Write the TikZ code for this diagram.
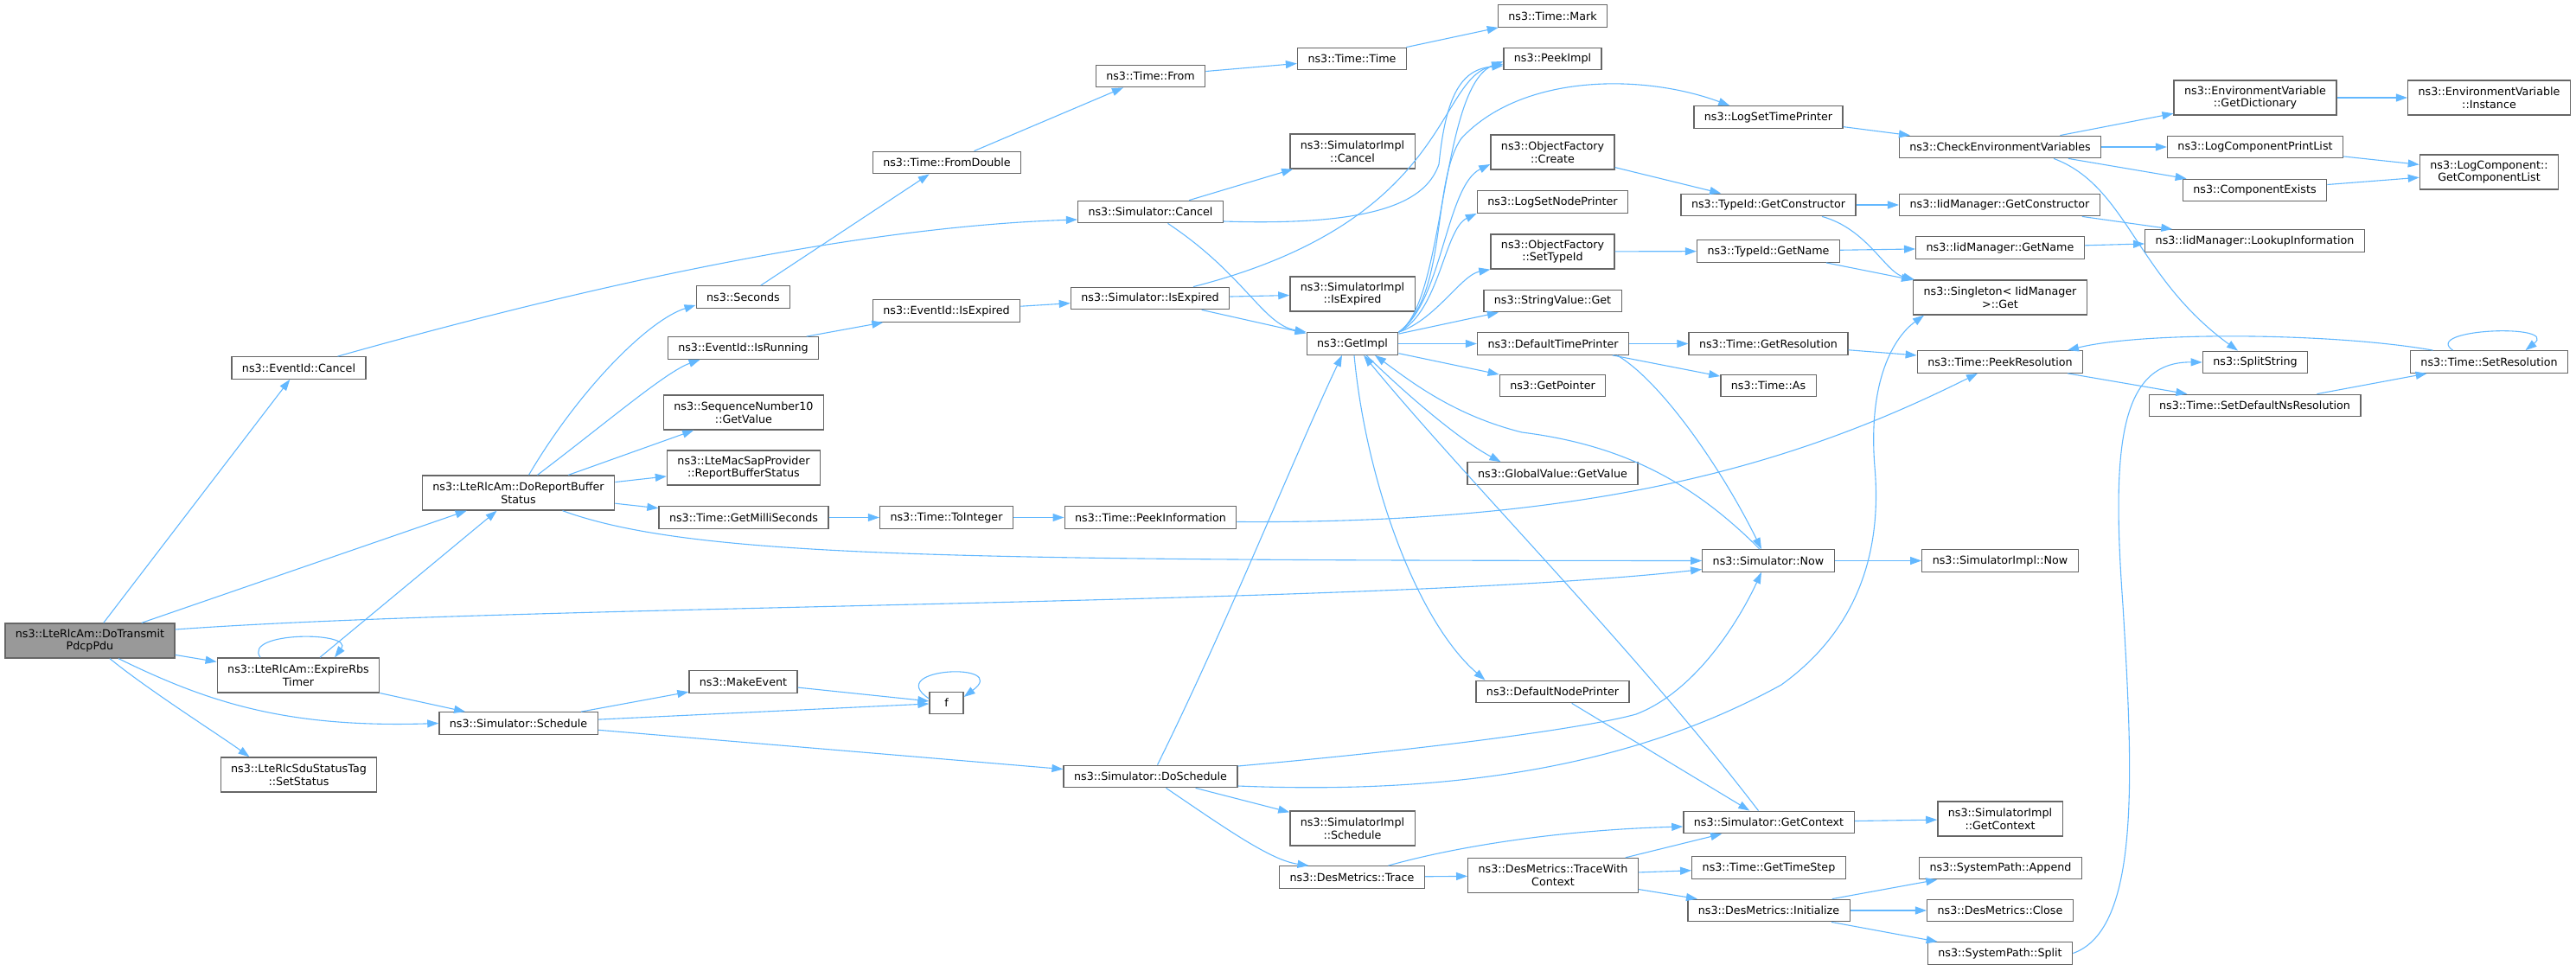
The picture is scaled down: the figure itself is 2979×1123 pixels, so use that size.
\documentclass[tikz,border=0pt]{standalone}
\usepackage{fontspec}
\setmainfont{DejaVu Sans}
\usetikzlibrary{arrows.meta}
\definecolor{callblue}{HTML}{63B8FF}
\definecolor{boxgray}{HTML}{666666}
\definecolor{rootgray}{HTML}{999999}
\begin{document}
\begin{tikzpicture}[x=1pt,y=1pt,
  fn/.style={draw=boxgray, line width=1.3pt, fill=white, align=center,
    font=\fontsize{12.7}{14.7}\selectfont, inner xsep=12pt, inner ysep=0pt,
    minimum height=25.5pt},
  fn2/.style={fn, minimum height=40pt},
  root/.style={fn2, fill=rootgray},
  call/.style={draw=callblue, line width=1.1pt, -{Triangle[length=13pt,width=9pt]}}]
  \useasboundingbox (0,0) rectangle (2979,-1123);
  % Wurzel
  \node[root] (tx) at (104,-741) {ns3::LteRlcAm::DoTransmit\\PdcpPdu};
  % Spalte 1
  \node[fn] (evcancel) at (345.5,-425.5) {ns3::EventId::Cancel};
  \node[fn2] (expire) at (345,-781) {ns3::LteRlcAm::ExpireRbs\\Timer};
  \node[fn2] (setstatus) at (345.5,-896) {ns3::LteRlcSduStatusTag\\::SetStatus};
  % Spalte 2
  \node[fn2] (report) at (599.5,-570) {ns3::LteRlcAm::DoReportBuffer\\Status};
  \node[fn] (sched) at (599.5,-836.5) {ns3::Simulator::Schedule};
  % Spalte 3
  \node[fn] (seconds) at (859.5,-343.5) {ns3::Seconds};
  \node[fn] (isrunning) at (859.5,-402.5) {ns3::EventId::IsRunning};
  \node[fn2] (seqnum) at (860,-477) {ns3::SequenceNumber10\\::GetValue};
  \node[fn2] (macsap) at (860,-541) {ns3::LteMacSapProvider\\::ReportBufferStatus};
  \node[fn] (millis) at (860,-598.5) {ns3::Time::GetMilliSeconds};
  \node[fn] (makeevent) at (859.5,-788.5) {ns3::MakeEvent};
  % Spalte 4
  \node[fn] (fromdouble) at (1095,-188) {ns3::Time::FromDouble};
  \node[fn] (evexpired) at (1094.5,-359.5) {ns3::EventId::IsExpired};
  \node[fn] (tointeger) at (1094.5,-598.5) {ns3::Time::ToInteger};
  \node[fn, minimum width=39pt] (f) at (1094.5,-813) {f};
  % Spalte 5
  \node[fn] (from) at (1330.5,-88) {ns3::Time::From};
  \node[fn] (simcancel) at (1330.5,-245) {ns3::Simulator::Cancel};
  \node[fn] (simexpired) at (1330,-345) {ns3::Simulator::IsExpired};
  \node[fn] (peekinfo) at (1330.5,-598.5) {ns3::Time::PeekInformation};
  \node[fn] (doschedule) at (1330.5,-898) {ns3::Simulator::DoSchedule};
  % Spalte 6
  \node[fn] (timetime) at (1563.5,-68) {ns3::Time::Time};
  \node[fn2] (implcancel) at (1564,-175) {ns3::SimulatorImpl\\::Cancel};
  \node[fn2] (implexpired) at (1564,-340) {ns3::SimulatorImpl\\::IsExpired};
  \node[fn] (getimpl) at (1564,-397.5) {ns3::GetImpl};
  \node[fn2] (implschedule) at (1564,-958) {ns3::SimulatorImpl\\::Schedule};
  \node[fn] (trace) at (1563.5,-1014.5) {ns3::DesMetrics::Trace};
  % Spalte 7
  \node[fn] (mark) at (1795.5,-18.5) {ns3::Time::Mark};
  \node[fn] (peekimpl) at (1795.5,-68) {ns3::PeekImpl};
  \node[fn2] (ofcreate) at (1795.5,-176) {ns3::ObjectFactory\\::Create};
  \node[fn] (lognode) at (1795.5,-233.5) {ns3::LogSetNodePrinter};
  \node[fn2] (ofsettype) at (1795.5,-291) {ns3::ObjectFactory\\::SetTypeId};
  \node[fn] (strget) at (1795.5,-348) {ns3::StringValue::Get};
  \node[fn] (deftime) at (1796,-397.5) {ns3::DefaultTimePrinter};
  \node[fn] (getpointer) at (1795.5,-446) {ns3::GetPointer};
  \node[fn] (globalval) at (1795.5,-547.5) {ns3::GlobalValue::GetValue};
  \node[fn] (defnode) at (1795.5,-800) {ns3::DefaultNodePrinter};
  \node[fn2] (tracectx) at (1796,-1012.5) {ns3::DesMetrics::TraceWith\\Context};
  % Spalte 8
  \node[fn] (logtime) at (2045,-135.5) {ns3::LogSetTimePrinter};
  \node[fn] (tgetctor) at (2045,-237) {ns3::TypeId::GetConstructor};
  \node[fn] (tgetname) at (2045,-290.5) {ns3::TypeId::GetName};
  \node[fn] (getres) at (2045,-397.5) {ns3::Time::GetResolution};
  \node[fn] (timeas) at (2045,-446) {ns3::Time::As};
  \node[fn] (simnow) at (2045,-648.5) {ns3::Simulator::Now};
  \node[fn] (getctx) at (2045.5,-951) {ns3::Simulator::GetContext};
  \node[fn] (timestep) at (2045.5,-1003.5) {ns3::Time::GetTimeStep};
  \node[fn] (init) at (2045.5,-1053) {ns3::DesMetrics::Initialize};
  % Spalte 9
  \node[fn] (checkenv) at (2313,-170) {ns3::CheckEnvironmentVariables};
  \node[fn] (iidctor) at (2312.5,-237) {ns3::IidManager::GetConstructor};
  \node[fn] (iidname) at (2313,-286.5) {ns3::IidManager::GetName};
  \node[fn2] (singleton) at (2313,-344) {ns3::Singleton< IidManager\\>::Get};
  \node[fn] (peekres) at (2313,-418.5) {ns3::Time::PeekResolution};
  \node[fn] (implnow) at (2313,-648.5) {ns3::SimulatorImpl::Now};
  \node[fn2] (implctx) at (2313,-947) {ns3::SimulatorImpl\\::GetContext};
  \node[fn] (append) at (2313.5,-1004) {ns3::SystemPath::Append};
  \node[fn] (close) at (2313,-1053) {ns3::DesMetrics::Close};
  \node[fn] (split) at (2313,-1102.5) {ns3::SystemPath::Split};
  % Spalte 10
  \node[fn2] (getdict) at (2608,-113) {ns3::EnvironmentVariable\\::GetDictionary};
  \node[fn] (printlist) at (2608,-170) {ns3::LogComponentPrintList};
  \node[fn] (compexists) at (2607.5,-220) {ns3::ComponentExists};
  \node[fn] (lookup) at (2607.5,-278.5) {ns3::IidManager::LookupInformation};
  \node[fn] (splitstring) at (2608,-419) {ns3::SplitString};
  \node[fn] (setdefns) at (2607.5,-469) {ns3::Time::SetDefaultNsResolution};
  % Spalte 11
  \node[fn2] (instance) at (2878.5,-113) {ns3::EnvironmentVariable\\::Instance};
  \node[fn2] (complist) at (2878.5,-199) {ns3::LogComponent::\\GetComponentList};
  \node[fn] (setres) at (2878.5,-418.5) {ns3::Time::SetResolution};
  % Aufrufe der Wurzel
  \draw[call] (tx) -- (evcancel);
  \draw[call] (tx) -- (report);
  \draw[call] ([yshift=13pt]tx.east) .. controls (600,-699) and (1600,-700) .. ([yshift=-10pt]simnow.west);
  \draw[call] (tx) -- (expire);
  \draw[call] ([xshift=33pt]tx.south) .. controls (240,-812) and (330,-842) .. (sched.west);
  \draw[call] ([xshift=23pt]tx.south) .. controls (170,-797) and (255,-851) .. ([xshift=-57pt]setstatus.north);
  % ExpireRbsTimer
  \draw[call] ([xshift=-44pt]expire.north) .. controls (280,-730) and (410,-730) .. ([xshift=42pt]expire.north);
  \draw[call] (expire) -- (report);
  \draw[call] (expire) -- (sched);
  % EventId::Cancel
  \draw[call] ([xshift=45pt]evcancel.north) .. controls (700,-325) and (1000,-262) .. ([yshift=-9pt]simcancel.west);
  % DoReportBufferStatus
  \draw[call] ([xshift=12pt]report.north) .. controls (670,-450) and (750,-370) .. ([yshift=4pt]seconds.south west);
  \draw[call] ([xshift=22pt]report.north) .. controls (700,-490) and (770,-430) .. ([xshift=38pt]isrunning.south west);
  \draw[call] (report) -- (seqnum);
  \draw[call] (report) -- (macsap);
  \draw[call] (report) -- (millis);
  \draw[call] ([xshift=51pt]report.south) .. controls (800,-645) and (1100,-648) .. (simnow.west);
  % Schedule
  \draw[call] (sched) -- (makeevent);
  \draw[call] (sched) -- (f);
  \draw[call] (sched) -- (doschedule);
  \draw[call] (makeevent) -- (f);
  \draw[call] ([yshift=5pt]f.west) .. controls (1020,-772) and (1170,-765) .. ([yshift=7pt]f.east);
  % Zeit
  \draw[call] (seconds) -- (fromdouble);
  \draw[call] (fromdouble) -- (from);
  \draw[call] (from) -- (timetime);
  \draw[call] (timetime) -- (mark);
  \draw[call] (millis) -- (tointeger);
  \draw[call] (tointeger) -- (peekinfo);
  \draw[call] ([yshift=-5pt]peekinfo.east) .. controls (1850,-606) and (2080,-535) .. ([xshift=-26pt]peekres.south);
  % IsRunning, IsExpired
  \draw[call] (isrunning) -- (evexpired);
  \draw[call] (evexpired) -- (simexpired);
  \draw[call] (simexpired) -- (implexpired);
  \draw[call] (simexpired) -- (getimpl);
  \draw[call] ([xshift=50pt]simexpired.north) .. controls (1680,-255) and (1660,-90) .. ([yshift=-6pt]peekimpl.west);
  % Simulator::Cancel
  \draw[call] (simcancel) -- (implcancel);
  \draw[call] ([xshift=20pt]simcancel.south) .. controls (1440,-318) and (1460,-375) .. (getimpl.north west);
  \draw[call] ([yshift=-11pt]simcancel.east) .. controls (1600,-262) and (1650,-230) .. (1664,-190)
    .. controls (1672,-110) and (1690,-80) .. ([yshift=-8pt]peekimpl.west);
  % GetImpl
  \draw[call] (getimpl.north east) .. controls (1672,-350) and (1665,-100) .. ([yshift=-3pt]peekimpl.west);
  \draw[call] (getimpl.north east) .. controls (1675,-340) and (1655,-210) .. (1690,-160)
    .. controls (1760,-85) and (1900,-85) .. ([xshift=42pt]logtime.north west);
  \draw[call] (getimpl.north east) .. controls (1668,-350) and (1672,-215) .. ([yshift=-14pt]ofcreate.west);
  \draw[call] (getimpl.north east) .. controls (1665,-360) and (1670,-265) .. (lognode.south west);
  \draw[call] (getimpl.north east) .. controls (1660,-370) and (1690,-318) .. (ofsettype.south west);
  \draw[call] (getimpl) -- (strget);
  \draw[call] (getimpl) -- (deftime);
  \draw[call] (getimpl) -- (getpointer);
  \draw[call] ([xshift=16pt]getimpl.south) .. controls (1630,-460) and (1690,-510) .. ([xshift=-60pt]globalval.north);
  \draw[call] ([xshift=2pt]getimpl.south) .. controls (1580,-560) and (1640,-720) .. ([xshift=-78pt]defnode.north);
  % DefaultTimePrinter
  \draw[call] (deftime) -- (getres);
  \draw[call] (deftime) -- (timeas);
  \draw[call] ([xshift=74pt]deftime.south) .. controls (1920,-440) and (1990,-540) .. ([xshift=-8pt]simnow.north);
  \draw[call] (getres) -- (peekres);
  % Simulator::Now
  \draw[call] (simnow) -- (implnow);
  \draw[call] ([xshift=-10pt]simnow.north) .. controls (1960,-560) and (1880,-515) .. (1760,-500)
    .. controls (1680,-480) and (1630,-440) .. ([xshift=26pt]getimpl.south);
  % GetContext
  \draw[call] (getctx) -- (implctx);
  \draw[call] ([xshift=-12pt]getctx.north) .. controls (1890,-750) and (1700,-560) .. ([xshift=13pt]getimpl.south);
  \draw[call] (defnode) -- (getctx);
  % DoSchedule
  \draw[call] ([xshift=8pt]doschedule.north) .. controls (1420,-720) and (1500,-520) .. ([xshift=-12pt]getimpl.south);
  \draw[call] (doschedule) -- (implschedule);
  \draw[call] ([xshift=18pt]doschedule.south) .. controls (1420,-960) and (1470,-995) .. ([xshift=-50pt]trace.north);
  \draw[call] ([yshift=12pt]doschedule.east) .. controls (1700,-862) and (1850,-838) .. (1892,-826)
    .. controls (1960,-800) and (2010,-720) .. ([xshift=-8pt]simnow.south);
  \draw[call] ([yshift=-11pt]doschedule.east) .. controls (1700,-920) and (1900,-880) .. (2060,-792)
    .. controls (2160,-720) and (2175,-620) .. (2168,-540)
    .. controls (2160,-440) and (2190,-390) .. ([xshift=-88pt]singleton.south);
  % DesMetrics
  \draw[call] (trace) -- (tracectx);
  \draw[call] ([xshift=42pt]trace.north) .. controls (1680,-980) and (1800,-960) .. ([yshift=-5pt]getctx.west);
  \draw[call] (tracectx) -- (getctx);
  \draw[call] (tracectx) -- (timestep);
  \draw[call] (tracectx) -- (init);
  \draw[call] (init) -- (append);
  \draw[call] (init) -- (close);
  \draw[call] (init) -- (split);
  \draw[call] (split.east) .. controls (2475,-1075) and (2467,-900) .. (2455,-700)
    .. controls (2442,-520) and (2450,-418) .. (splitstring.west);
  % TypeId
  \draw[call] (ofcreate) -- (tgetctor);
  \draw[call] (ofsettype) -- (tgetname);
  \draw[call] (tgetctor) -- (iidctor);
  \draw[call] ([xshift=62pt]tgetctor.south) .. controls (2160,-265) and (2180,-315) .. ([xshift=-99pt]singleton.north);
  \draw[call] (tgetname) -- (iidname);
  \draw[call] (tgetname) -- (singleton);
  \draw[call] (iidctor) -- (lookup);
  \draw[call] (iidname) -- (lookup);
  % Umgebungsvariablen
  \draw[call] (logtime) -- (checkenv);
  \draw[call] (checkenv) -- (getdict);
  \draw[call] (checkenv) -- (printlist);
  \draw[call] (checkenv) -- (compexists);
  \draw[call] ([xshift=62pt]checkenv.south) .. controls (2460,-215) and (2470,-320) .. ([xshift=-20pt]splitstring.north);
  \draw[call] (getdict) -- (instance);
  \draw[call] (printlist) -- (complist);
  \draw[call] (compexists) -- (complist);
  % Aufloesung
  \draw[call] (peekres) -- (setdefns);
  \draw[call] (setdefns) -- (setres);
  \draw[call] ([xshift=-42pt]setres.north) .. controls (2800,-380) and (2960,-374) .. ([xshift=42pt]setres.north);
  \draw[call] ([xshift=-65pt]setres.north) .. controls (2700,-385) and (2480,-383) .. ([xshift=78pt]peekres.north);
\end{tikzpicture}
\end{document}
